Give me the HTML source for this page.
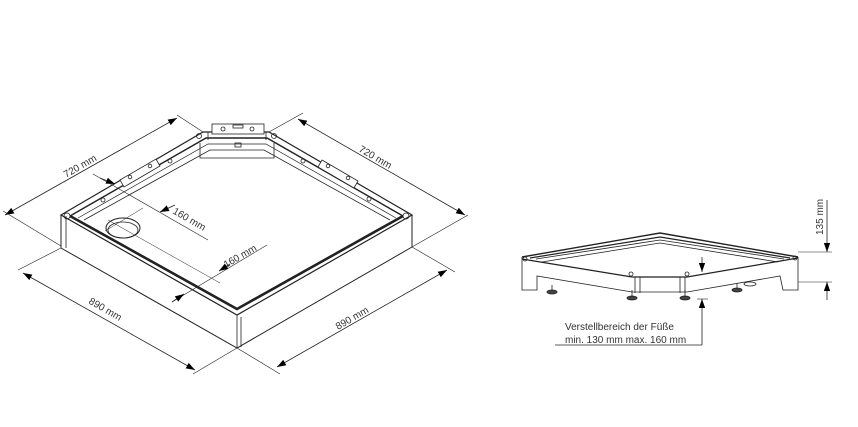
<!DOCTYPE html>
<html><head><meta charset="utf-8"><style>
html,body{margin:0;padding:0;background:#fff;}
svg{display:block;}
text{font-family:"Liberation Sans",sans-serif;fill:#333;}
</style></head><body>
<svg width="858" height="427" viewBox="0 0 858 427" xmlns="http://www.w3.org/2000/svg">
<defs>
<marker id="a" viewBox="0 0 10 10" refX="10" refY="5" markerWidth="9" markerHeight="9" orient="auto-start-reverse" markerUnits="userSpaceOnUse"><path d="M0,1.5 L10,5 L0,8.5 Z" fill="#000"/></marker>
</defs>
<g stroke="#222" fill="none" stroke-width="0.8">
<path d="M61,215 L203,132 L269,132 L412,215 L237,315 Z" stroke-width="1.2"/>
<path d="M70,216 L206,138 L267,138 L403,216" stroke-width="1.4"/>
<path d="M70,216 L237,309 L403,216" stroke-width="2.6"/>
<path d="M78,218 L208,144 L266,144 L396,218" stroke-width="0.7"/>
<path d="M84,220 L210,150 L264,150 L390,220"/>
<path d="M200,143 L200,158 L274,158 L274,143"/>
<path d="M208,132 L208,140 M266,132 L266,140"/>
<rect x="212" y="124" width="52" height="10" fill="#fff"/>
<circle cx="223" cy="129" r="2"/><circle cx="252" cy="129" r="2"/>
<rect x="233" y="125" width="10" height="3"/>
<rect x="235" y="143" width="6" height="4"/>
<path d="M120,180 L156,159 L160,166 L124,187 Z" fill="#fff"/>
<circle cx="130" cy="177" r="1.8"/><circle cx="150" cy="166" r="1.8"/>
<path d="M322,160 L358,181 L354,188 L318,167 Z" fill="#fff"/>
<circle cx="328" cy="166" r="1.8"/><circle cx="348" cy="178" r="1.8"/>
<circle cx="103" cy="200" r="2"/><circle cx="170" cy="161" r="2"/>
<circle cx="303" cy="161" r="2"/><circle cx="369" cy="199" r="2"/>
<circle cx="67" cy="216" r="3"/><circle cx="406" cy="216" r="3"/>
<circle cx="199" cy="136" r="2.5"/><circle cx="274" cy="136" r="2.5"/>
<path d="M61,215 L61,248 L237,348 L412,247 L412,215" stroke-width="1"/>
<path d="M237,315 L237,348 M241,317 L241,347" />
<path d="M66,216 L66,248"/>
<ellipse cx="123" cy="228" rx="17" ry="10" stroke-width="1"/>
<ellipse cx="123" cy="230" rx="15" ry="8"/>
<line x1="5" y1="215" x2="177" y2="118" marker-start="url(#a)" marker-end="url(#a)"/>
<line x1="3" y1="211" x2="61" y2="246" stroke-width="0.6"/>
<line x1="177" y1="115" x2="203" y2="132" stroke-width="0.6"/>
<line x1="298" y1="119" x2="465" y2="215" marker-start="url(#a)" marker-end="url(#a)"/>
<line x1="269" y1="132" x2="303" y2="113" stroke-width="0.6"/>
<line x1="412" y1="247" x2="468" y2="215" stroke-width="0.6"/>
<line x1="23" y1="273" x2="195" y2="370" marker-start="url(#a)" marker-end="url(#a)"/>
<line x1="18" y1="270" x2="61" y2="248" stroke-width="0.6"/>
<line x1="237" y1="348" x2="193" y2="374" stroke-width="0.6"/>
<line x1="277" y1="367" x2="447" y2="270" marker-start="url(#a)" marker-end="url(#a)"/>
<line x1="237" y1="348" x2="280" y2="374" stroke-width="0.6"/>
<line x1="412" y1="247" x2="455" y2="272" stroke-width="0.6"/>
<line x1="93" y1="174" x2="208" y2="240" stroke-width="0.6"/>
<path d="M100,178 L115,184" marker-end="url(#a)"/>
<line x1="175" y1="205" x2="160" y2="212" marker-end="url(#a)"/>
<line x1="105" y1="231" x2="143" y2="208" stroke-width="0.5"/>
<line x1="108" y1="220" x2="220" y2="283" stroke-width="0.5"/>
<line x1="172" y1="302" x2="267" y2="245" stroke-width="0.6"/>
<line x1="172" y1="302" x2="184" y2="294" marker-end="url(#a)"/>
<line x1="230" y1="264" x2="219" y2="271" marker-end="url(#a)"/>

<path d="M522,257 L660,233 L798,257" stroke-width="1.4"/>
<path d="M530,258 L660,237 L790,258" stroke-width="1.2"/>
<path d="M536,259 L660,240 L784,259"/>
<path d="M542,262 L660,243 L778,262"/>
<path d="M522,257 L522,290 L537,290 L537,276 L632,292 L687,292 L780,276 L783,290 L798,290 L798,257"/>
<path d="M522,259 L632,277 L687,277 L798,258" stroke-width="1.2"/>
<path d="M635,277 L635,293 M640,277 L640,293 M685,277 L685,293 M680,277 L680,293"/>
<circle cx="525" cy="259" r="2"/><circle cx="795" cy="258" r="2"/>
<circle cx="631" cy="274" r="2"/><circle cx="687" cy="274" r="2"/>
<g fill="#444"><ellipse cx="552" cy="292" rx="5" ry="2"/><ellipse cx="632" cy="298" rx="5" ry="2"/><ellipse cx="685" cy="298" rx="5" ry="2"/><ellipse cx="737" cy="290" rx="5" ry="2"/></g>
<path d="M552,285 L552,291 M632,290 L632,297 M685,290 L685,297 M737,283 L737,289"/>
<ellipse cx="750" cy="284" rx="6" ry="2"/>
<line x1="798" y1="252" x2="832" y2="252" stroke-width="0.6"/>
<line x1="798" y1="282" x2="832" y2="282" stroke-width="0.6"/>
<line x1="827" y1="200" x2="827" y2="252" marker-end="url(#a)"/>
<line x1="827" y1="300" x2="827" y2="282" marker-end="url(#a)"/>
<line x1="702" y1="257" x2="702" y2="272" marker-end="url(#a)"/>
<line x1="702" y1="345" x2="702" y2="299" marker-end="url(#a)"/>
<line x1="697" y1="299" x2="708" y2="299" stroke-width="0.6"/>
<line x1="555" y1="345" x2="702" y2="345"/>
</g>
<g font-size="10">
<text transform="translate(66,178) rotate(-30)">720 mm</text>
<text transform="translate(358,151) rotate(30)">720 mm</text>
<text transform="translate(88,303) rotate(30)">890 mm</text>
<text transform="translate(338,330) rotate(-30)">890 mm</text>
<text transform="translate(172,213) rotate(30)">160 mm</text>
<text transform="translate(226,268) rotate(-30)">160 mm</text>
<text transform="translate(823,235) rotate(-90)">135 mm</text>
<text x="565" y="330">Verstellbereich der Füße</text>
<text x="565" y="343">min. 130 mm max. 160 mm</text>
</g>
</svg>
</body></html>
